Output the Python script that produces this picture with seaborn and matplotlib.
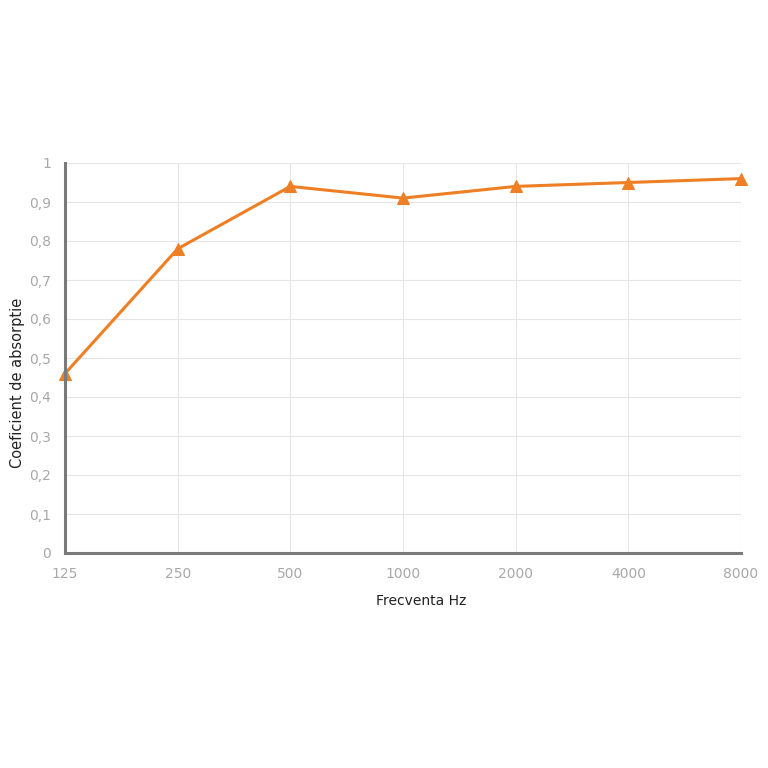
import matplotlib
matplotlib.use("Agg")
import matplotlib.pyplot as plt
import seaborn as sns
import pandas as pd
from matplotlib.ticker import FuncFormatter, MultipleLocator

# data
frequencies = ["125", "250", "500", "1000", "2000", "4000", "8000"]
absorption = [0.46, 0.78, 0.94, 0.91, 0.94, 0.95, 0.96]

df = pd.DataFrame({"pos": range(len(frequencies)), "freq": frequencies, "alpha": absorption})

sns.set_style("white")
plt.rcParams["font.family"] = ["DejaVu Sans"]


def comma_fmt(v, p):
    if abs(v - round(v)) < 1e-9:
        return str(int(round(v)))
    return f"{v:.1f}".replace(".", ",")


fig = plt.figure(figsize=(7.68, 7.68), dpi=100)
ax = fig.add_axes([65 / 768, 1 - 553 / 768, 676 / 768, 390 / 768])

sns.lineplot(data=df, x="pos", y="alpha", color="#EE7F24", linewidth=2.2,
             marker="^", markersize=9, markeredgecolor="#EE7F24", ax=ax, clip_on=False)

ax.set_xlim(0, len(frequencies) - 1)
ax.set_ylim(0, 1)
ax.set_xticks(range(len(frequencies)))
ax.set_xticklabels(frequencies)
ax.yaxis.set_major_locator(MultipleLocator(0.1))
ax.yaxis.set_major_formatter(FuncFormatter(comma_fmt))

ax.grid(True, color="#e6e6e6", linewidth=0.8)
ax.set_axisbelow(True)
for s in ["top", "right"]:
    ax.spines[s].set_visible(False)
for s in ["left", "bottom"]:
    ax.spines[s].set_color("#7a7a7a")
    ax.spines[s].set_linewidth(2.2)

ax.tick_params(axis="both", length=0, labelsize=10, colors="#a8a8a8")
ax.tick_params(axis="x", pad=10)
ax.tick_params(axis="y", pad=10)

ax.set_xlabel("Frecventa Hz", fontsize=10, color="#222222")
ax.xaxis.set_label_coords(0.527, -0.105)
ax.set_ylabel("Coeficient de absorptie", fontsize=10.5, color="#222222")
ax.yaxis.set_label_coords(-0.059, 0.436)

fig.savefig("out.png", dpi=100, facecolor="white")
